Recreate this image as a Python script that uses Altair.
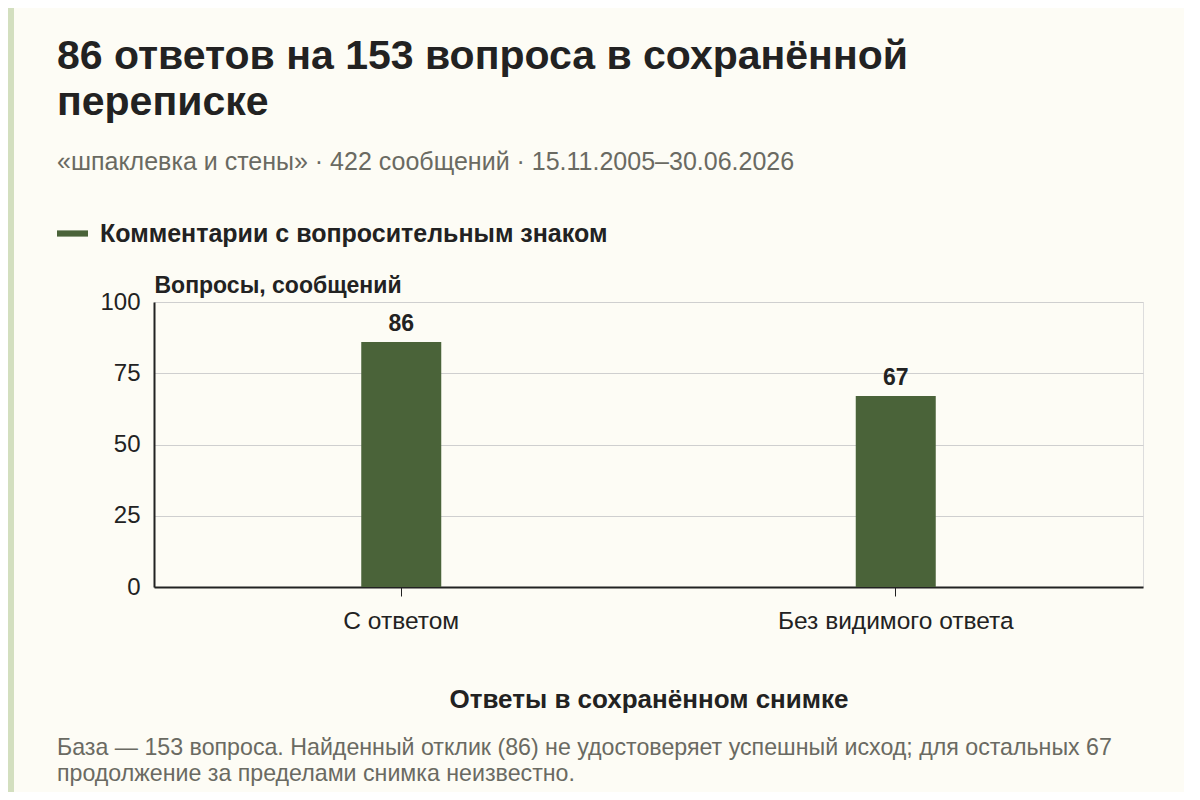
import altair as alt
import pandas as pd

categories = ["С ответом", "Без видимого ответа"]
values = [86, 67]
series = ["Комментарии с вопросительным знаком", "Комментарии с вопросительным знаком"]
y_ticks = [0, 25, 50, 75, 100]

title_lines = ["86 ответов на 153 вопроса в сохранённой", "переписке"]
subtitle = "«шпаклевка и стены» · 422 сообщений · 15.11.2005–30.06.2026"
y_title = "Вопросы, сообщений"
x_title = "Ответы в сохранённом снимке"
footnote = ("База — 153 вопроса. Найденный отклик (86) не удостоверяет успешный исход; для остальных 67\n"
            "продолжение за пределами снимка неизвестно.")

df = pd.DataFrame({"cat": categories, "val": values, "series": series})

FONT = "Liberation Sans"
BAR = "#4a6339"
INK = "#222222"
GRAY = "#6a6a62"
BG = "#fdfcf5"

base = alt.Chart(df)

x_enc = alt.X(
    "cat:N", sort=categories, title=x_title,
    scale=alt.Scale(paddingInner=0.0, paddingOuter=0.0),
    axis=alt.Axis(labelAngle=0, labelFontSize=24.5, labelColor=INK, labelPadding=13,
                  labelLimit=500,
                  tickSize=9, tickColor=INK, domainColor=INK, domainWidth=2,
                  titleFontSize=26, titleFontWeight="bold", titleColor=INK, titlePadding=54,
                  grid=False),
)
y_enc = alt.Y(
    "val:Q", title=y_title,
    scale=alt.Scale(domain=[0, 100]),
    axis=alt.Axis(values=y_ticks, labelFontSize=24, labelColor=INK, labelPadding=14,
                  tickSize=0, domainColor=INK, domainWidth=2,
                  gridColor="#cfcfcf", gridWidth=1,
                  titleAngle=0, titleX=0, titleY=-10, titleAlign="left",
                  titleBaseline="alphabetic", titleFontSize=23, titleFontWeight="bold",
                  titleColor=INK, titleLimit=600),
)

bars = base.mark_bar(size=80).encode(
    x=x_enc, y=y_enc,
    color=alt.Color("series:N", scale=alt.Scale(range=[BAR]),
                    legend=alt.Legend(orient="none", legendX=-97, legendY=-84, title=None,
                                      symbolType="M-1,-0.2L1,-0.2L1,0.2L-1,0.2Z",
                                      symbolSize=961, symbolStrokeWidth=0,
                                      labelFontSize=25, labelFontWeight="bold",
                                      labelColor=INK, labelOffset=12, labelFont=FONT,
                                      labelLimit=800)),
)

labels = base.mark_text(dy=-6, baseline="bottom", fontSize=23, fontWeight="bold",
                        color=INK, font=FONT).encode(
    x=alt.X("cat:N", sort=categories), y="val:Q", text="val:Q")

note = alt.Chart(pd.DataFrame({"t": [footnote]})).mark_text(
    align="left", baseline="alphabetic", fontSize=23.2, color=GRAY, font=FONT,
    lineBreak="\n", lineHeight=26).encode(
    x=alt.value(-97), y=alt.value(453), text="t:N")

stripe = alt.Chart(pd.DataFrame({"k": [1]})).mark_rect(color="#d3dfbf").encode(
    x=alt.value(-146), x2=alt.value(-140), y=alt.value(-294), y2=alt.value(490))

chart = alt.layer(stripe, bars, labels, note).properties(
    width=989, height=285,
    autosize=alt.AutoSizeParams(type="none"),
    padding={"left": 146, "top": 294, "right": 41, "bottom": 205},
    background=BG,
    title=alt.TitleParams(
        text=title_lines, subtitle=subtitle, anchor="start", frame="group", dx=-97,
        fontSize=41, fontWeight="bold", color=INK, font=FONT, lineHeight=46,
        subtitleFontSize=25, subtitleColor=GRAY, subtitleFont=FONT, subtitlePadding=26,
        offset=-168),
).configure_view(stroke=None).configure(font=FONT)

chart.save("out.html", embed_options={"renderer": "svg", "actions": False})
